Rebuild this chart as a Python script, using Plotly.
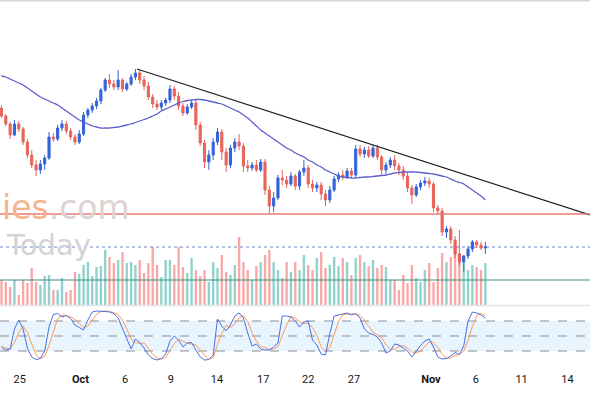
import plotly.graph_objects as go

# ---------------- data ----------------
bar_index = list(range(113))

opens = [292, 284, 276, 265, 276, 271, 258, 245, 235, 230, 236, 242, 263, 261, 272, 276, 269, 263, 258, 266,
         285, 290, 294, 299, 310, 320, 316, 313, 320, 311, 316, 323, 327, 320, 314, 303, 296, 293, 297, 300,
         311, 304, 294, 287, 293, 297, 275, 257, 238, 245, 258, 268, 248, 235, 252, 258, 254, 234, 232, 235,
         230, 238, 210, 194, 202, 222, 220, 216, 224, 214, 228, 232, 216, 212, 215, 206, 200, 210, 221, 225,
         223, 229, 225, 251, 246, 250, 244, 252, 243, 230, 235, 240, 234, 230, 224, 212, 205, 213, 217, 219,
         216, 192, 189, 168, 171, 160, 146, 138, 144, 151, 158, 155, 152]
highs = [295, 286, 278, 280, 279, 273, 261, 250, 240, 240, 245, 268, 267, 275, 280, 279, 272, 266, 270, 288,
         292, 297, 302, 312, 322, 326, 320, 330, 322, 318, 326, 331, 330, 324, 318, 306, 300, 300, 302, 315,
         314, 308, 297, 296, 300, 300, 278, 260, 250, 262, 272, 271, 252, 255, 262, 266, 257, 240, 238, 240,
         241, 241, 214, 208, 225, 230, 224, 228, 226, 230, 240, 235, 220, 218, 218, 210, 214, 224, 228, 230,
         232, 232, 255, 255, 253, 254, 255, 255, 245, 238, 243, 245, 237, 234, 228, 215, 216, 220, 223, 222,
         218, 195, 192, 174, 174, 164, 170, 145, 154, 160, 160, 158, 158]
lows = [282, 274, 261, 264, 268, 255, 242, 232, 224, 226, 230, 240, 258, 259, 269, 266, 260, 255, 256, 264,
        282, 287, 291, 296, 308, 312, 310, 310, 308, 309, 314, 320, 316, 310, 300, 292, 290, 290, 294, 297,
        300, 290, 284, 285, 291, 270, 254, 232, 230, 240, 255, 240, 228, 232, 248, 250, 228, 228, 229, 228,
        228, 205, 186, 188, 200, 215, 212, 214, 210, 210, 224, 212, 208, 208, 200, 194, 197, 208, 218, 220,
        221, 222, 223, 243, 242, 242, 242, 240, 225, 226, 232, 230, 225, 220, 208, 196, 203, 210, 214, 212,
        188, 186, 164, 162, 156, 142, 134, 128, 141, 148, 152, 150, 146]
closes = [284, 276, 265, 276, 271, 258, 245, 235, 230, 236, 242, 263, 261, 272, 276, 269, 263, 258, 266, 285,
          290, 294, 299, 310, 320, 316, 313, 320, 311, 316, 323, 327, 320, 314, 303, 296, 293, 297, 300, 311,
          304, 294, 287, 293, 297, 275, 257, 238, 245, 258, 268, 248, 235, 252, 258, 254, 234, 232, 235, 230,
          238, 210, 194, 202, 222, 220, 216, 224, 214, 228, 232, 216, 212, 215, 206, 200, 210, 221, 225, 223,
          229, 225, 251, 246, 250, 244, 252, 243, 230, 235, 240, 234, 230, 224, 212, 205, 213, 217, 219, 216,
          192, 189, 168, 171, 160, 146, 138, 144, 151, 158, 155, 152, 153]

moving_avg = [324, 323, 321, 319, 317, 315, 312, 309, 306, 303, 301, 299, 297, 295, 292, 289, 286, 283, 280, 278,
              276, 274, 273, 272, 272, 272, 272.5, 273, 274, 275, 276, 277.5, 279, 280.5, 282, 284, 286, 289, 291, 293,
              295, 297, 298.5, 299.5, 300, 300.5, 300.5, 300, 299, 298, 297, 296, 294, 292, 290, 288, 285, 282, 278, 274,
              270, 267, 264, 261, 258, 255, 252, 250, 247, 245, 243, 240, 238, 235, 233, 230, 228, 226, 224, 223,
              222.5, 222, 222, 222.5, 223, 223, 223.5, 224, 224.5, 225, 226, 227, 227.5, 228, 228, 228, 228, 227.5, 227, 226.5,
              226, 225, 224, 223, 221, 219, 217.5, 216, 213, 210, 207, 204, 200]

volume = [25, 23, 18, 25, 10, 25, 22, 37, 23, 20, 29, 30, 15, 15, 27, 13, 15, 33, 31, 40,
          43, 29, 38, 39, 55, 48, 42, 45, 53, 42, 43, 40, 45, 32, 42, 58, 40, 28, 45, 45,
          40, 58, 38, 32, 47, 35, 29, 35, 23, 43, 37, 50, 33, 30, 40, 68, 43, 35, 25, 39,
          43, 50, 55, 43, 35, 27, 43, 33, 43, 35, 50, 40, 35, 47, 53, 37, 40, 48, 39, 47,
          43, 30, 47, 50, 43, 39, 45, 37, 40, 38, 25, 25, 15, 30, 22, 40, 27, 23, 35, 42,
          23, 37, 52, 43, 48, 60, 52, 43, 35, 40, 38, 35, 42]

stoch_k = [27, 22, 24, 64, 82, 64, 26, 8, 3, 5, 20, 68, 93, 95, 88, 91, 85, 72, 67, 62,
           82, 98, 100, 100, 99, 98, 95, 86, 65, 42, 24, 44, 37, 26, 12, 5, 2, 5, 14, 40,
           50, 42, 28, 36, 37, 22, 8, 2, 3, 12, 84, 70, 60, 72, 90, 96, 86, 56, 30, 34,
           24, 22, 22, 28, 36, 90, 90, 88, 80, 68, 78, 80, 42, 32, 14, 12, 55, 90, 92, 94,
           96, 92, 95, 86, 64, 56, 53, 48, 36, 16, 20, 34, 32, 26, 20, 8, 20, 31, 40, 44,
           28, 8, 4, 5, 10, 17, 13, 30, 80, 98, 96, 92, 86]
stoch_d = [30, 26, 24, 37, 57, 70, 57, 33, 12, 5, 9, 31, 60, 85, 92, 91, 88, 83, 75, 67,
           70, 81, 93, 99, 100, 99, 97, 93, 82, 64, 44, 37, 35, 36, 25, 14, 6, 4, 7, 20,
           35, 44, 40, 35, 34, 32, 22, 11, 4, 6, 33, 55, 71, 67, 74, 86, 91, 79, 57, 40,
           29, 27, 23, 24, 29, 51, 72, 89, 86, 79, 75, 75, 67, 51, 29, 19, 27, 52, 79, 92,
           94, 94, 94, 91, 82, 69, 58, 52, 46, 33, 24, 23, 29, 31, 26, 18, 16, 20, 30, 38,
           37, 27, 13, 6, 6, 11, 13, 20, 41, 69, 91, 95, 91]

trend_x = [31.37, 136.23]
trend_y = [331, 185]

resistance_level = 186
support_level = 120
last_price = 153
stoch_levels = [80, 50, 20]

tick_pos = [4.2, 18.3, 28.6, 39.2, 49.9, 60.6, 71.0, 81.6, 99.4, 109.8, 120.4, 131.0]
tick_text = ["25", "<b>Oct</b>", "6", "9", "14", "17", "22", "27", "<b>Nov</b>", "6", "11", "14"]

# ---------------- styling ----------------
UP = "#3563d9"
DOWN = "#e8655a"
VOL_UP = "rgba(38,166,154,0.5)"
VOL_DOWN = "rgba(239,83,80,0.5)"
H = 393.0

def py(pix):
    return (H - pix) / H

vol_colors = [VOL_UP if c >= o else VOL_DOWN for o, c in zip(opens, closes)]

fig = go.Figure()

fig.add_trace(go.Bar(x=bar_index, y=volume, marker=dict(color=vol_colors, line=dict(width=0)),
                     width=0.55, xaxis="x", yaxis="y2", hoverinfo="skip"))

fig.add_trace(go.Candlestick(x=bar_index, open=opens, high=highs, low=lows, close=closes,
                             increasing=dict(line=dict(color=UP, width=1), fillcolor=UP),
                             decreasing=dict(line=dict(color=DOWN, width=1), fillcolor=DOWN),
                             xaxis="x", yaxis="y", hoverinfo="skip"))

fig.add_trace(go.Scatter(x=bar_index, y=moving_avg, mode="lines",
                         line=dict(color="#5d5fc9", width=1.3, shape="spline"),
                         xaxis="x", yaxis="y", hoverinfo="skip"))

fig.add_trace(go.Scatter(x=trend_x, y=trend_y, mode="lines", line=dict(color="#1f1f1f", width=1.2),
                         xaxis="x", yaxis="y", hoverinfo="skip", cliponaxis=False))

fig.add_trace(go.Scatter(x=bar_index, y=stoch_d, mode="lines", line=dict(color="#ff9a55", width=1),
                         xaxis="x2", yaxis="y3", hoverinfo="skip"))
fig.add_trace(go.Scatter(x=bar_index, y=stoch_k, mode="lines", line=dict(color="#4a6fe0", width=1),
                         xaxis="x2", yaxis="y3", hoverinfo="skip"))

shapes = []
# stochastic band
shapes.append(dict(type="rect", xref="paper", x0=0, x1=1, yref="y3", y0=stoch_levels[2], y1=stoch_levels[0],
                   fillcolor="rgba(33,150,243,0.10)", line=dict(width=0), layer="below"))
for lv in stoch_levels:
    shapes.append(dict(type="line", xref="paper", x0=0, x1=1, yref="y3", y0=lv, y1=lv,
                       line=dict(color="#8a8d96", width=1, dash="dash"), layer="below"))
# horizontal levels
shapes.append(dict(type="line", xref="paper", x0=0, x1=1, yref="y", y0=resistance_level, y1=resistance_level,
                   line=dict(color="#e47b72", width=1.3)))
shapes.append(dict(type="line", xref="paper", x0=0, x1=1, yref="y", y0=support_level, y1=support_level,
                   line=dict(color="#3f8f86", width=1.2)))
shapes.append(dict(type="line", xref="paper", x0=0, x1=1, yref="y", y0=last_price, y1=last_price,
                   line=dict(color="#6d86c9", width=1, dash="dot"), layer="below"))
# pane separators / borders
shapes.append(dict(type="line", xref="paper", x0=0, x1=1, yref="paper", y0=py(305.5), y1=py(305.5),
                   line=dict(color="#e0e3eb", width=1.5)))
shapes.append(dict(type="line", xref="paper", x0=0, x1=1, yref="paper", y0=py(0.8), y1=py(0.8),
                   line=dict(color="#d6d6d6", width=1.6)))

annotations = [
    dict(text="<span style='color:#f6b48d'>ies</span><span style='color:#ddd3d1'>.com</span>",
         xref="paper", yref="paper", x=0, y=py(207), xanchor="left", yanchor="middle",
         showarrow=False, font=dict(family="DejaVu Sans", size=33)),
    dict(text="Today", xref="paper", yref="paper", x=4 / 590, y=py(245), xanchor="left", yanchor="middle",
         showarrow=False, font=dict(family="DejaVu Sans", size=29, color="#d3d3d3")),
]

fig.update_layout(
    width=590, height=393,
    margin=dict(l=0, r=0, t=0, b=0),
    paper_bgcolor="white", plot_bgcolor="rgba(0,0,0,0)",
    showlegend=False,
    bargap=0.3,
    shapes=shapes,
    annotations=annotations,
    xaxis=dict(domain=[0, 1], range=[-0.347, 136.23], visible=False, rangeslider=dict(visible=False),
               anchor="y"),
    xaxis2=dict(domain=[0, 1], matches="x", anchor="y3", tickmode="array", tickvals=tick_pos,
                ticktext=tick_text, showgrid=False, zeroline=False, showline=False, ticks="",
                tickfont=dict(family="Roboto", size=11, color="#131722"), ticklabelstandoff=5),
    yaxis=dict(domain=[py(305), 1], range=[95, 400], visible=False, anchor="x"),
    yaxis2=dict(domain=[py(305), py(225)], range=[0, 80], visible=False, anchor="x"),
    yaxis3=dict(domain=[py(366), py(306)], range=[-10, 110], visible=False, anchor="x2"),
)

fig.write_html("out.html", config={"displayModeBar": False},
               post_script="document.body.style.margin='0';document.body.style.overflow='hidden';")
